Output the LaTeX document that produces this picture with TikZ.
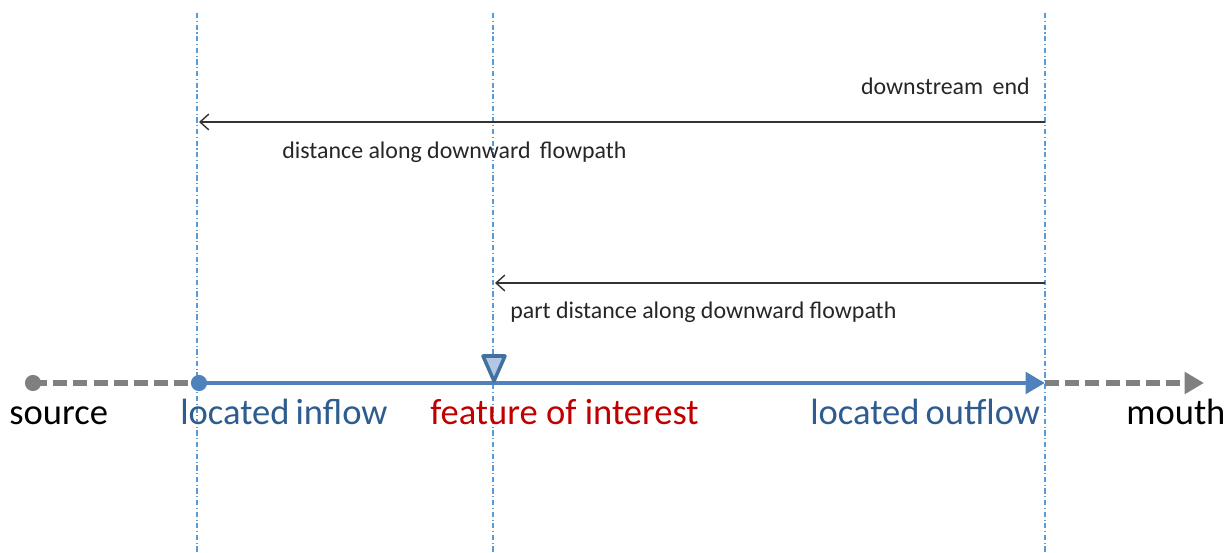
\documentclass[tikz,border=0pt]{standalone}
\usepackage{fontspec}
\setmainfont{Carlito}
\usetikzlibrary{arrows.meta}
\definecolor{flowblue}{HTML}{4F81BD}
\definecolor{flowgray}{HTML}{808080}
\definecolor{guideblue}{HTML}{5B9BD5}
\definecolor{nameblue}{HTML}{2E5C8F}
\definecolor{featred}{HTML}{C00000}
\definecolor{markfill}{HTML}{B4C7E7}
\definecolor{markedge}{HTML}{41719C}
\tikzset{
  guide/.style={guideblue, line width=0.6pt, dash pattern=on 3pt off 1.5pt on 0.6pt off 1.5pt},
  reach/.style={flowblue, line width=2.8pt},
  beyond/.style={flowgray, line width=3.2pt, dash pattern=on 8pt off 3.5pt},
  measure/.style={black!80, line width=0.8pt, {Straight Barb[length=5pt,width=9pt]}-},
  bigtext/.style={font=\fontsize{20.8}{24}\selectfont, anchor=base west, inner sep=0pt},
  smalltext/.style={font=\fontsize{13.6}{16}\selectfont, text=black!85, inner sep=0pt}
}
\begin{document}
\begin{tikzpicture}[x=0.02cm,y=-0.02cm]
    \useasboundingbox (0,0) rectangle (1225,553);
    % guides
    \coordinate (inflowtop) at (197,13);
    \coordinate (inflowbot) at (197,553);
    \coordinate (foitop) at (493,13);
    \coordinate (foibot) at (493,553);
    \coordinate (outflowtop) at (1045,13);
    \coordinate (outflowbot) at (1045,553);
    \draw [guide] (inflowtop) -- (inflowbot);
    \draw [guide] (foitop) -- (foibot);
    \draw [guide] (outflowtop) -- (outflowbot);
    % distances
    \coordinate (dsstart) at (1045,122);
    \coordinate (dsstop) at (199,122);
    \coordinate (pdstart) at (1045,283);
    \coordinate (pdstop) at (495,283);
    \draw [measure] (dsstop) -- (dsstart);
    \draw [measure] (pdstop) -- (pdstart);
    \node [smalltext, anchor=base east] (dsend) at (1030,95) {downstream\, end};
    \node [smalltext, anchor=base west] (dslabel) at (282,159) {distance along downward\, flowpath};
    \node [smalltext, anchor=base west] (pdlabel) at (510,319) {part distance along downward flowpath};
    % flowpath
    \coordinate (src) at (33,383);
    \coordinate (inflow) at (199,383);
    \coordinate (outflow) at (1045,383);
    \coordinate (mouthend) at (1204,383);
    \draw [beyond] (src) -- (inflow);
    \draw [beyond, -{Triangle[length=11pt,width=12pt]}] (outflow) -- (mouthend);
    \draw [reach, -{Triangle[length=11pt,width=12pt]}] (inflow) -- (outflow);
    \fill [flowgray] (src) circle (4.6pt);
    \fill [flowblue] (inflow) circle (4.6pt);
    \filldraw [draw=markedge, fill=markfill, line width=2pt, line join=round] (483,356) -- (505,356) -- (494,381) -- cycle;
    % names
    \node [bigtext, text=black] (source) at (9,425) {source};
    \node [bigtext, text=nameblue] (inname) at (180,425) {located\,inflow};
    \node [bigtext, text=featred] (foiname) at (430,425) {feature of interest};
    \node [bigtext, text=nameblue] (outname) at (810,425) {located\,outflow};
    \node [bigtext, text=black] (mouth) at (1126,425) {mouth};
\end{tikzpicture}
\end{document}
